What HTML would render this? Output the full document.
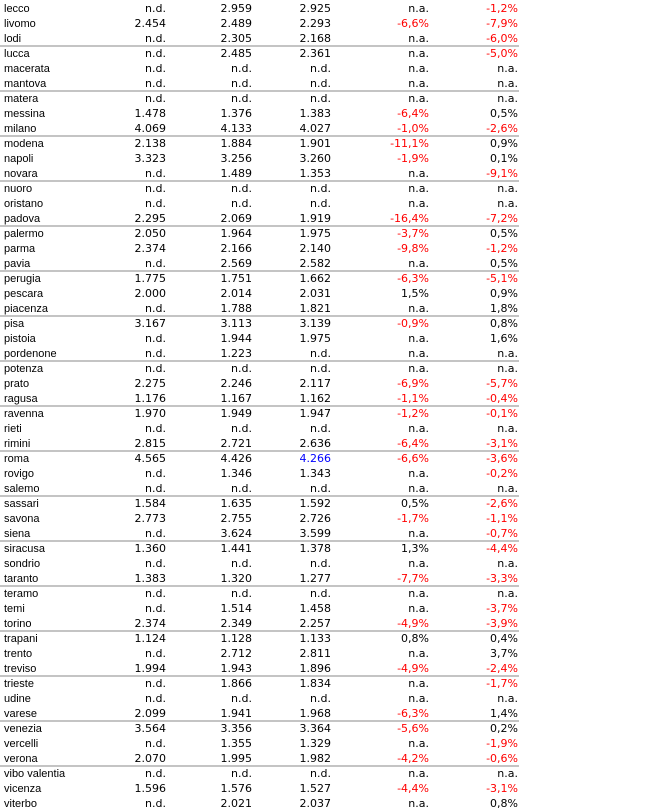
<!DOCTYPE html>
<html><head><meta charset="utf-8"><style>
body{margin:0;width:659px;height:812px;background:#fff;position:relative;overflow:hidden}
.r{position:absolute;left:0;width:659px;height:15px;line-height:15px}
.r span{position:absolute;top:1px;line-height:15px}
.r span.n{top:2px}
.n{left:4px;font:11px "Liberation Sans",Arial,sans-serif;color:#000}
.c{text-align:right;font:11px "DejaVu Sans",Verdana,sans-serif;color:#000;white-space:nowrap}
.a{right:493px}.b{right:407px}.d{right:328px}.e{right:230px}.f{right:141px}
.red{color:#f00}.blue{color:#00f}
.ln{position:absolute;left:0;width:519px;height:2px;background:#c4c4c4}
</style></head><body>
<div class="ln" style="top:45px"></div><div class="ln" style="top:90px"></div><div class="ln" style="top:135px"></div><div class="ln" style="top:180px"></div><div class="ln" style="top:225px"></div><div class="ln" style="top:270px"></div><div class="ln" style="top:315px"></div><div class="ln" style="top:360px"></div><div class="ln" style="top:405px"></div><div class="ln" style="top:450px"></div><div class="ln" style="top:495px"></div><div class="ln" style="top:540px"></div><div class="ln" style="top:585px"></div><div class="ln" style="top:630px"></div><div class="ln" style="top:675px"></div><div class="ln" style="top:720px"></div><div class="ln" style="top:765px"></div>

<div class="r" style="top:0px"><span class="n">lecco</span><span class="c a">n.d.</span><span class="c b">2.959</span><span class="c d">2.925</span><span class="c e">n.a.</span><span class="c f red">-1,2%</span></div>
<div class="r" style="top:15px"><span class="n">livomo</span><span class="c a">2.454</span><span class="c b">2.489</span><span class="c d">2.293</span><span class="c e red">-6,6%</span><span class="c f red">-7,9%</span></div>
<div class="r" style="top:30px"><span class="n">lodi</span><span class="c a">n.d.</span><span class="c b">2.305</span><span class="c d">2.168</span><span class="c e">n.a.</span><span class="c f red">-6,0%</span></div>
<div class="r" style="top:45px"><span class="n">lucca</span><span class="c a">n.d.</span><span class="c b">2.485</span><span class="c d">2.361</span><span class="c e">n.a.</span><span class="c f red">-5,0%</span></div>
<div class="r" style="top:60px"><span class="n">macerata</span><span class="c a">n.d.</span><span class="c b">n.d.</span><span class="c d">n.d.</span><span class="c e">n.a.</span><span class="c f">n.a.</span></div>
<div class="r" style="top:75px"><span class="n">mantova</span><span class="c a">n.d.</span><span class="c b">n.d.</span><span class="c d">n.d.</span><span class="c e">n.a.</span><span class="c f">n.a.</span></div>
<div class="r" style="top:90px"><span class="n">matera</span><span class="c a">n.d.</span><span class="c b">n.d.</span><span class="c d">n.d.</span><span class="c e">n.a.</span><span class="c f">n.a.</span></div>
<div class="r" style="top:105px"><span class="n">messina</span><span class="c a">1.478</span><span class="c b">1.376</span><span class="c d">1.383</span><span class="c e red">-6,4%</span><span class="c f">0,5%</span></div>
<div class="r" style="top:120px"><span class="n">milano</span><span class="c a">4.069</span><span class="c b">4.133</span><span class="c d">4.027</span><span class="c e red">-1,0%</span><span class="c f red">-2,6%</span></div>
<div class="r" style="top:135px"><span class="n">modena</span><span class="c a">2.138</span><span class="c b">1.884</span><span class="c d">1.901</span><span class="c e red">-11,1%</span><span class="c f">0,9%</span></div>
<div class="r" style="top:150px"><span class="n">napoli</span><span class="c a">3.323</span><span class="c b">3.256</span><span class="c d">3.260</span><span class="c e red">-1,9%</span><span class="c f">0,1%</span></div>
<div class="r" style="top:165px"><span class="n">novara</span><span class="c a">n.d.</span><span class="c b">1.489</span><span class="c d">1.353</span><span class="c e">n.a.</span><span class="c f red">-9,1%</span></div>
<div class="r" style="top:180px"><span class="n">nuoro</span><span class="c a">n.d.</span><span class="c b">n.d.</span><span class="c d">n.d.</span><span class="c e">n.a.</span><span class="c f">n.a.</span></div>
<div class="r" style="top:195px"><span class="n">oristano</span><span class="c a">n.d.</span><span class="c b">n.d.</span><span class="c d">n.d.</span><span class="c e">n.a.</span><span class="c f">n.a.</span></div>
<div class="r" style="top:210px"><span class="n">padova</span><span class="c a">2.295</span><span class="c b">2.069</span><span class="c d">1.919</span><span class="c e red">-16,4%</span><span class="c f red">-7,2%</span></div>
<div class="r" style="top:225px"><span class="n">palermo</span><span class="c a">2.050</span><span class="c b">1.964</span><span class="c d">1.975</span><span class="c e red">-3,7%</span><span class="c f">0,5%</span></div>
<div class="r" style="top:240px"><span class="n">parma</span><span class="c a">2.374</span><span class="c b">2.166</span><span class="c d">2.140</span><span class="c e red">-9,8%</span><span class="c f red">-1,2%</span></div>
<div class="r" style="top:255px"><span class="n">pavia</span><span class="c a">n.d.</span><span class="c b">2.569</span><span class="c d">2.582</span><span class="c e">n.a.</span><span class="c f">0,5%</span></div>
<div class="r" style="top:270px"><span class="n">perugia</span><span class="c a">1.775</span><span class="c b">1.751</span><span class="c d">1.662</span><span class="c e red">-6,3%</span><span class="c f red">-5,1%</span></div>
<div class="r" style="top:285px"><span class="n">pescara</span><span class="c a">2.000</span><span class="c b">2.014</span><span class="c d">2.031</span><span class="c e">1,5%</span><span class="c f">0,9%</span></div>
<div class="r" style="top:300px"><span class="n">piacenza</span><span class="c a">n.d.</span><span class="c b">1.788</span><span class="c d">1.821</span><span class="c e">n.a.</span><span class="c f">1,8%</span></div>
<div class="r" style="top:315px"><span class="n">pisa</span><span class="c a">3.167</span><span class="c b">3.113</span><span class="c d">3.139</span><span class="c e red">-0,9%</span><span class="c f">0,8%</span></div>
<div class="r" style="top:330px"><span class="n">pistoia</span><span class="c a">n.d.</span><span class="c b">1.944</span><span class="c d">1.975</span><span class="c e">n.a.</span><span class="c f">1,6%</span></div>
<div class="r" style="top:345px"><span class="n">pordenone</span><span class="c a">n.d.</span><span class="c b">1.223</span><span class="c d">n.d.</span><span class="c e">n.a.</span><span class="c f">n.a.</span></div>
<div class="r" style="top:360px"><span class="n">potenza</span><span class="c a">n.d.</span><span class="c b">n.d.</span><span class="c d">n.d.</span><span class="c e">n.a.</span><span class="c f">n.a.</span></div>
<div class="r" style="top:375px"><span class="n">prato</span><span class="c a">2.275</span><span class="c b">2.246</span><span class="c d">2.117</span><span class="c e red">-6,9%</span><span class="c f red">-5,7%</span></div>
<div class="r" style="top:390px"><span class="n">ragusa</span><span class="c a">1.176</span><span class="c b">1.167</span><span class="c d">1.162</span><span class="c e red">-1,1%</span><span class="c f red">-0,4%</span></div>
<div class="r" style="top:405px"><span class="n">ravenna</span><span class="c a">1.970</span><span class="c b">1.949</span><span class="c d">1.947</span><span class="c e red">-1,2%</span><span class="c f red">-0,1%</span></div>
<div class="r" style="top:420px"><span class="n">rieti</span><span class="c a">n.d.</span><span class="c b">n.d.</span><span class="c d">n.d.</span><span class="c e">n.a.</span><span class="c f">n.a.</span></div>
<div class="r" style="top:435px"><span class="n">rimini</span><span class="c a">2.815</span><span class="c b">2.721</span><span class="c d">2.636</span><span class="c e red">-6,4%</span><span class="c f red">-3,1%</span></div>
<div class="r" style="top:450px"><span class="n">roma</span><span class="c a">4.565</span><span class="c b">4.426</span><span class="c d blue">4.266</span><span class="c e red">-6,6%</span><span class="c f red">-3,6%</span></div>
<div class="r" style="top:465px"><span class="n">rovigo</span><span class="c a">n.d.</span><span class="c b">1.346</span><span class="c d">1.343</span><span class="c e">n.a.</span><span class="c f red">-0,2%</span></div>
<div class="r" style="top:480px"><span class="n">salemo</span><span class="c a">n.d.</span><span class="c b">n.d.</span><span class="c d">n.d.</span><span class="c e">n.a.</span><span class="c f">n.a.</span></div>
<div class="r" style="top:495px"><span class="n">sassari</span><span class="c a">1.584</span><span class="c b">1.635</span><span class="c d">1.592</span><span class="c e">0,5%</span><span class="c f red">-2,6%</span></div>
<div class="r" style="top:510px"><span class="n">savona</span><span class="c a">2.773</span><span class="c b">2.755</span><span class="c d">2.726</span><span class="c e red">-1,7%</span><span class="c f red">-1,1%</span></div>
<div class="r" style="top:525px"><span class="n">siena</span><span class="c a">n.d.</span><span class="c b">3.624</span><span class="c d">3.599</span><span class="c e">n.a.</span><span class="c f red">-0,7%</span></div>
<div class="r" style="top:540px"><span class="n">siracusa</span><span class="c a">1.360</span><span class="c b">1.441</span><span class="c d">1.378</span><span class="c e">1,3%</span><span class="c f red">-4,4%</span></div>
<div class="r" style="top:555px"><span class="n">sondrio</span><span class="c a">n.d.</span><span class="c b">n.d.</span><span class="c d">n.d.</span><span class="c e">n.a.</span><span class="c f">n.a.</span></div>
<div class="r" style="top:570px"><span class="n">taranto</span><span class="c a">1.383</span><span class="c b">1.320</span><span class="c d">1.277</span><span class="c e red">-7,7%</span><span class="c f red">-3,3%</span></div>
<div class="r" style="top:585px"><span class="n">teramo</span><span class="c a">n.d.</span><span class="c b">n.d.</span><span class="c d">n.d.</span><span class="c e">n.a.</span><span class="c f">n.a.</span></div>
<div class="r" style="top:600px"><span class="n">temi</span><span class="c a">n.d.</span><span class="c b">1.514</span><span class="c d">1.458</span><span class="c e">n.a.</span><span class="c f red">-3,7%</span></div>
<div class="r" style="top:615px"><span class="n">torino</span><span class="c a">2.374</span><span class="c b">2.349</span><span class="c d">2.257</span><span class="c e red">-4,9%</span><span class="c f red">-3,9%</span></div>
<div class="r" style="top:630px"><span class="n">trapani</span><span class="c a">1.124</span><span class="c b">1.128</span><span class="c d">1.133</span><span class="c e">0,8%</span><span class="c f">0,4%</span></div>
<div class="r" style="top:645px"><span class="n">trento</span><span class="c a">n.d.</span><span class="c b">2.712</span><span class="c d">2.811</span><span class="c e">n.a.</span><span class="c f">3,7%</span></div>
<div class="r" style="top:660px"><span class="n">treviso</span><span class="c a">1.994</span><span class="c b">1.943</span><span class="c d">1.896</span><span class="c e red">-4,9%</span><span class="c f red">-2,4%</span></div>
<div class="r" style="top:675px"><span class="n">trieste</span><span class="c a">n.d.</span><span class="c b">1.866</span><span class="c d">1.834</span><span class="c e">n.a.</span><span class="c f red">-1,7%</span></div>
<div class="r" style="top:690px"><span class="n">udine</span><span class="c a">n.d.</span><span class="c b">n.d.</span><span class="c d">n.d.</span><span class="c e">n.a.</span><span class="c f">n.a.</span></div>
<div class="r" style="top:705px"><span class="n">varese</span><span class="c a">2.099</span><span class="c b">1.941</span><span class="c d">1.968</span><span class="c e red">-6,3%</span><span class="c f">1,4%</span></div>
<div class="r" style="top:720px"><span class="n">venezia</span><span class="c a">3.564</span><span class="c b">3.356</span><span class="c d">3.364</span><span class="c e red">-5,6%</span><span class="c f">0,2%</span></div>
<div class="r" style="top:735px"><span class="n">vercelli</span><span class="c a">n.d.</span><span class="c b">1.355</span><span class="c d">1.329</span><span class="c e">n.a.</span><span class="c f red">-1,9%</span></div>
<div class="r" style="top:750px"><span class="n">verona</span><span class="c a">2.070</span><span class="c b">1.995</span><span class="c d">1.982</span><span class="c e red">-4,2%</span><span class="c f red">-0,6%</span></div>
<div class="r" style="top:765px"><span class="n">vibo valentia</span><span class="c a">n.d.</span><span class="c b">n.d.</span><span class="c d">n.d.</span><span class="c e">n.a.</span><span class="c f">n.a.</span></div>
<div class="r" style="top:780px"><span class="n">vicenza</span><span class="c a">1.596</span><span class="c b">1.576</span><span class="c d">1.527</span><span class="c e red">-4,4%</span><span class="c f red">-3,1%</span></div>
<div class="r" style="top:795px"><span class="n">viterbo</span><span class="c a">n.d.</span><span class="c b">2.021</span><span class="c d">2.037</span><span class="c e">n.a.</span><span class="c f">0,8%</span></div>
</body></html>
